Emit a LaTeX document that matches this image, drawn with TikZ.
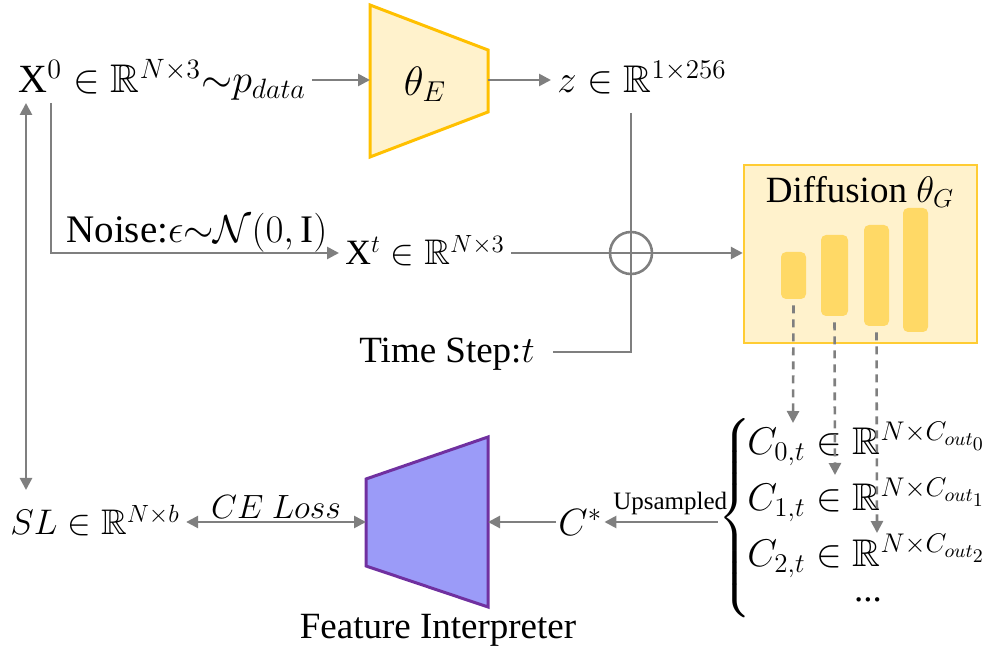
\RequirePackage{fix-cm}
\documentclass[tikz,border=0pt]{standalone}
\usepackage{amsmath}
\usepackage{amssymb}
\DeclareFontFamily{U}{msb}{}
\DeclareFontShape{U}{msb}{m}{n}{<-6>msbm5<6-8>msbm7<8->msbm10}{}
\usepackage{fontspec}
\setmainfont{Liberation Serif}
\usetikzlibrary{arrows.meta,positioning,calc}

\definecolor{lgray}{HTML}{7F7F7F}
\definecolor{encfill}{HTML}{FFF2CC}
\definecolor{encdraw}{HTML}{FFC000}
\definecolor{diffdraw}{HTML}{FFCC33}
\definecolor{barfill}{HTML}{FFD966}
\definecolor{fifill}{HTML}{9B9BF8}
\definecolor{fidraw}{HTML}{7030A0}

\tikzset{
  txt/.style={inner sep=3pt, font=\fontsize{18.5}{22}\selectfont},
  mtxt/.style={inner sep=3pt, font=\fontsize{19.3}{23}\selectfont},
  small/.style={inner sep=2pt, font=\fontsize{12.5}{15}\selectfont},
  line/.style={draw=lgray, line width=1.3pt},
  arr/.style={line, -{Triangle[length=6pt,width=6pt]}},
  dbl/.style={line, {Triangle[length=6pt,width=6pt]}-{Triangle[length=6pt,width=6pt]}},
  darr/.style={line, dash pattern=on 4pt off 3pt, -{Triangle[length=6pt,width=6pt]}},
  encoder/.style={fill=encfill, draw=encdraw, line width=1.5pt},
  interp/.style={fill=fifill, draw=fidraw, line width=1.5pt},
  diffbox/.style={fill=encfill, draw=diffdraw, line width=1.2pt, inner sep=0},
  bar/.style={fill=barfill, rounded corners=2.5pt, inner sep=0, minimum width=12.5pt},
}

\begin{document}
\begin{tikzpicture}[x=0.5pt, y=-0.5pt]
\useasboundingbox (0,0) rectangle (990,651);

% top row: data, encoder, latent
\node[mtxt, anchor=base west, font=\fontsize{20}{24}\selectfont] (x0) at (12,93) {X$^0\in\mathbb{R}^{N\times3}{\sim}p_{data}$};
\draw[encoder] (370,5) -- (488,50) -- (488,112) -- (370,157) -- cycle;
\node[mtxt, font=\fontsize{20.5}{24}\selectfont] (enc) at (425,84) {$\theta_E$};
\coordinate (encw) at (370,80);
\coordinate (ence) at (488,80);
\node[mtxt, anchor=base west] (z) at (551,93) {$z\in\mathbb{R}^{1\times256}$};
\draw[arr] (x0.east |- encw) -- (encw);
\draw[arr] (ence) -- (z.west |- ence);

% noisy sample and time step
\node[txt, anchor=base west, font=\fontsize{17.8}{21}\selectfont] (xt) at (339,265) {X$^t\in\mathbb{R}^{N\times3}$};
\node[txt, anchor=base west, font=\fontsize{19.5}{23}\selectfont] (noise) at (60,243) {Noise:$\epsilon{\sim}\mathcal{N}(0,\mathrm{I})$};
\node[txt, anchor=base east, inner xsep=9pt] (ts) at (553,363) {Time Step:$t$};
\node[circle, draw=lgray, line width=1.3pt, minimum size=21pt, inner sep=0] (sum) at (631,253) {};
\coordinate (nz) at (51,103);
\coordinate (tcorner) at (631,352);
\draw[arr] (nz) |- (xt.west |- sum);
\draw[line] (xt.east |- sum) -- (sum.center);
\draw[line] ([yshift=-6pt]sum |- z.south) -- (tcorner) -- (ts.east |- tcorner);

% diffusion network
\node[diffbox, minimum width=116.5pt, minimum height=89pt] (diff) at (860.5,254) {};
\node[txt] (dtitle) at (860,192) {Diffusion $\theta_G$};
\node[bar, minimum height=23.5pt] (b1) at (793.5,275.5) {};
\node[bar, minimum width=13.5pt, minimum height=40.5pt] (b2) at (834.5,275.5) {};
\node[bar, minimum height=50.5pt] (b3) at (876.5,275.5) {};
\node[bar, minimum height=62pt] (b4) at (915.5,270) {};
\draw[arr] (sum.center) -- (diff.west |- sum);

% intermediate features
\node[inner sep=0] (brace) at (736,518) {\fontsize{18.5}{22}\selectfont$\left\{\rule[-45pt]{0pt}{90pt}\right.$};
\node[mtxt, anchor=base west] (c0) at (741,455) {$C_{0,t}\in\mathbb{R}^{N\times C_{out_0}}$};
\node[mtxt, anchor=base west] (c1) at (741,511) {$C_{1,t}\in\mathbb{R}^{N\times C_{out_1}}$};
\node[mtxt, anchor=base west] (c2) at (741,567) {$C_{2,t}\in\mathbb{R}^{N\times C_{out_2}}$};
\node[txt] (dots) at (868,600) {...};
\coordinate (e0) at (793,423);
\coordinate (e1) at (835,475);
\coordinate (e2) at (877,533);
\draw[darr, shorten <=3pt] (b1.south) -- (e0);
\draw[darr, shorten <=3pt] (b2.south) -- (e1);
\draw[darr, shorten <=3pt] (b3.south) -- (e2);

% feature interpreter
\node[mtxt, anchor=west, inner sep=1pt, font=\fontsize{19}{23}\selectfont] (cstar) at (556,522) {$C^*$};
\draw[arr] (cstar.east -| brace.west) -- (cstar.east) node[small, pos=0.42, above=1pt] {Upsampled};
\draw[interp] (366,479) -- (488,437) -- (488,607) -- (366,566) -- cycle;
\coordinate (fiw) at (366,522);
\coordinate (fie) at (488,522);
\node[txt, anchor=base] (filabel) at (438,638) {Feature Interpreter};
\draw[arr] (cstar.west) -- (fie);

% segmentation labels
\node[txt, anchor=base west, font=\fontsize{17.8}{21}\selectfont] (sl) at (4,535) {$SL\in\mathbb{R}^{N\times b}$};
\draw[dbl] (sl.east |- fiw) -- (fiw) node[txt, midway, above=-2pt, font=\fontsize{16.8}{20}\selectfont] {$CE\ Loss$};
\coordinate (vtop) at (26,103);
\coordinate (vbot) at (26,490);
\draw[dbl] (vtop) -- (vbot);
\end{tikzpicture}
\end{document}
